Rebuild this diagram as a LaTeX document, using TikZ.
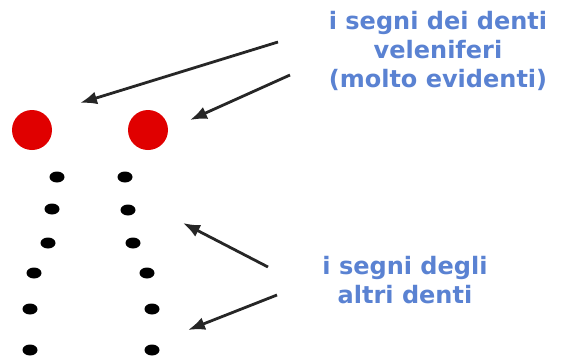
\documentclass[tikz,border=0pt]{standalone}
\usepackage{fontspec}
\setmainfont{DejaVu Sans}
\usetikzlibrary{arrows.meta,shapes.geometric}
\definecolor{lblue}{HTML}{5A82D2}
\definecolor{vred}{HTML}{E00000}
\tikzset{
  redmark/.style={circle,fill=vred,minimum size=40pt,inner sep=0pt},
  blackmark/.style={ellipse,fill=black,minimum width=15pt,minimum height=11pt,inner sep=0pt},
  lbl/.style={text=lblue,font=\bfseries\fontsize{24}{29}\selectfont,align=center},
  pointer/.style={draw=black!85,line width=2.8pt,-{Latex[length=17pt,width=13pt]}}
}
\begin{document}
\begin{tikzpicture}[x=1pt,y=-1pt]
\useasboundingbox (0,0) rectangle (563,362);
\node[redmark] (r1) at (32,130) {};
\node[redmark] (r2) at (148,130) {};
\foreach \i/\x/\y in {1/57/177,2/52/209,3/48/243,4/34/273,5/30/309,6/30/350}
  \node[blackmark] (l\i) at (\x,\y) {};
\foreach \i/\x/\y in {1/125/177,2/128/210,3/133/243,4/147/273,5/152/309,6/152/350}
  \node[blackmark] (d\i) at (\x,\y) {};
\node[lbl] (t1) at (438,51) {i segni dei denti\\veleniferi\\(molto evidenti)};
\node[lbl] (t2) at (405,280) {i segni degli\\altri denti};
\coordinate (a1s) at (278,42);
\coordinate (a1e) at (80,103);
\coordinate (a2s) at (290,75);
\coordinate (a2e) at (190,120);
\coordinate (a3s) at (268,267);
\coordinate (a3e) at (183,223);
\coordinate (a4s) at (277,295);
\coordinate (a4e) at (188,330);
\draw[pointer] (a1s) -- (a1e);
\draw[pointer] (a2s) -- (a2e);
\draw[pointer] (a3s) -- (a3e);
\draw[pointer] (a4s) -- (a4e);
\end{tikzpicture}
\end{document}
